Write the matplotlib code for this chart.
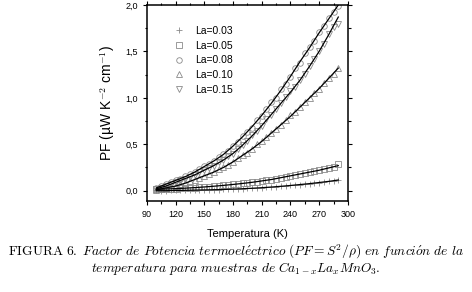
import matplotlib
matplotlib.use("Agg")
import matplotlib.pyplot as plt
from matplotlib.ticker import MultipleLocator, FuncFormatter

plt.rcParams['font.family'] = ['Liberation Sans', 'DejaVu Sans']
plt.rcParams['mathtext.fontset'] = 'cm'

# temperatures of the measured points (K)
temp = [100, 105, 110, 115, 120, 125, 130, 135, 140, 145, 150, 155, 160, 165,
        170, 175, 180, 185, 190, 195, 200, 205, 210, 215, 220, 225, 230, 235,
        240, 245, 250, 255, 260, 265, 270, 275, 280, 285, 290]

# measured PF values (uW K^-2 cm^-1)
pf_003 = [0.003, 0.0, 0.001, 0.002, 0.002, 0.003, 0.004, 0.005, 0.006, 0.007,
          0.008, 0.009, 0.010, 0.012, 0.013, 0.015, 0.017, 0.019, 0.021, 0.024,
          0.026, 0.029, 0.032, 0.035, 0.039, 0.043, 0.047, 0.051, 0.056, 0.061,
          0.066, 0.071, 0.076, 0.082, 0.088, 0.094, 0.100, 0.108, 0.115]
pf_005 = [0.015, 0.02, 0.018, 0.02, 0.022, 0.025, 0.027, 0.03, 0.033, 0.037,
          0.04, 0.045, 0.048, 0.052, 0.057, 0.062, 0.067, 0.072, 0.078, 0.085,
          0.09, 0.097, 0.105, 0.11, 0.12, 0.13, 0.14, 0.15, 0.16, 0.17,
          0.18, 0.19, 0.20, 0.21, 0.22, 0.235, 0.245, 0.26, 0.29]
pf_008 = [0.03, 0.05, 0.07, 0.09, 0.11, 0.13, 0.16, 0.18, 0.20, 0.23,
          0.27, 0.29, 0.32, 0.36, 0.40, 0.43, 0.48, 0.52, 0.59, 0.63,
          0.68, 0.76, 0.80, 0.88, 0.95, 1.00, 1.09, 1.15, 1.22, 1.32,
          1.38, 1.48, 1.55, 1.61, 1.71, 1.77, 1.86, 1.92, 1.99]
pf_010 = [0.01, 0.02, 0.03, 0.04, 0.05, 0.07, 0.08, 0.10, 0.12, 0.14,
          0.16, 0.18, 0.20, 0.23, 0.25, 0.28, 0.31, 0.35, 0.38, 0.41,
          0.45, 0.50, 0.53, 0.58, 0.62, 0.66, 0.71, 0.76, 0.81, 0.85,
          0.90, 0.96, 1.00, 1.05, 1.10, 1.16, 1.21, 1.26, 1.32]
pf_015 = [0.02, 0.03, 0.05, 0.07, 0.09, 0.11, 0.13, 0.15, 0.17, 0.20,
          0.22, 0.24, 0.27, 0.31, 0.33, 0.37, 0.40, 0.45, 0.49, 0.53,
          0.60, 0.64, 0.70, 0.77, 0.82, 0.88, 0.94, 1.01, 1.07, 1.12,
          1.19, 1.26, 1.34, 1.42, 1.50, 1.58, 1.69, 1.76, 1.80]

# smooth fit curves
temp_fit = [100, 110, 120, 130, 140, 150, 160, 170, 180, 190,
            200, 210, 220, 230, 240, 250, 260, 270, 280, 290]
fit_003 = [0.0, 0.0, 0.002, 0.004, 0.006, 0.008, 0.010, 0.013, 0.017, 0.021,
           0.026, 0.032, 0.039, 0.047, 0.056, 0.066, 0.076, 0.088, 0.100, 0.115]
fit_005 = [0.015, 0.018, 0.022, 0.027, 0.033, 0.040, 0.048, 0.057, 0.067, 0.078,
           0.090, 0.105, 0.120, 0.140, 0.160, 0.180, 0.200, 0.220, 0.245, 0.270]
fit_008 = [0.03, 0.07, 0.11, 0.15, 0.20, 0.26, 0.32, 0.39, 0.48, 0.58,
           0.69, 0.81, 0.94, 1.08, 1.23, 1.39, 1.54, 1.70, 1.85, 2.00]
fit_010 = [0.01, 0.03, 0.05, 0.08, 0.12, 0.16, 0.20, 0.25, 0.31, 0.38,
           0.45, 0.53, 0.62, 0.71, 0.80, 0.90, 1.00, 1.10, 1.21, 1.32]
fit_015 = [0.02, 0.05, 0.09, 0.13, 0.17, 0.22, 0.27, 0.33, 0.40, 0.49,
           0.59, 0.70, 0.82, 0.94, 1.06, 1.19, 1.34, 1.50, 1.68, 1.87]

labels = ["La=0.03", "La=0.05", "La=0.08", "La=0.10", "La=0.15"]
series = [pf_003, pf_005, pf_008, pf_010, pf_015]
fits = [fit_003, fit_005, fit_008, fit_010, fit_015]
markers = ["+", "s", "o", "^", "v"]

fig = plt.figure(figsize=(4.72, 2.92), dpi=100)
ax = fig.add_axes([0.311, 0.312, 0.426, 0.671])

for y, m, lab in zip(series, markers, labels):
    ax.plot(temp, y, linestyle="none", marker=m, markersize=4,
            markerfacecolor="none", markeredgecolor="#8a8a8a",
            markeredgewidth=0.6, label=lab)
for yf in fits:
    ax.plot(temp_fit, yf, color="black", lw=0.9)

ax.set_xlim(90, 300)
ax.set_ylim(-0.11, 2.0)
ax.xaxis.set_major_locator(MultipleLocator(30))
ax.xaxis.set_minor_locator(MultipleLocator(15))
ax.yaxis.set_major_locator(MultipleLocator(0.5))
ax.yaxis.set_minor_locator(MultipleLocator(0.25))
ax.yaxis.set_major_formatter(FuncFormatter(lambda v, p: f"{v:.1f}".replace(".", ",")))

ax.tick_params(which="both", top=True, right=True, labelsize=6.5, width=0.8)
ax.tick_params(which="major", length=3)
ax.tick_params(which="minor", length=1.8)
for s in ax.spines.values():
    s.set_linewidth(1.1)

ax.set_xlabel("Temperatura (K)", fontsize=8, labelpad=7)
ax.set_ylabel("PF (µW K$^{-2}$ cm$^{-1}$)", fontsize=10, labelpad=6)

leg = ax.legend(loc="upper left", bbox_to_anchor=(0.1, 0.93), frameon=False,
                fontsize=7.5, handlelength=1.0, handletextpad=1.0,
                labelspacing=0.45, borderpad=0.2)

line1 = (r"$\mathrm{FIGURA\ 6.}\ Factor\ de\ Potencia\ termoel\acute{e}ctrico\ "
         r"(PF = S^2/\rho)\ en\ funci\acute{o}n\ de\ la$")
line2 = r"$temperatura\ para\ muestras\ de\ Ca_{1-x}La_xMnO_3.$"
fig.text(0.5, 0.137, line1, ha="center", va="center", fontsize=9.7)
fig.text(0.5, 0.08, line2, ha="center", va="center", fontsize=9.7)

fig.savefig("out.png", dpi=100)
